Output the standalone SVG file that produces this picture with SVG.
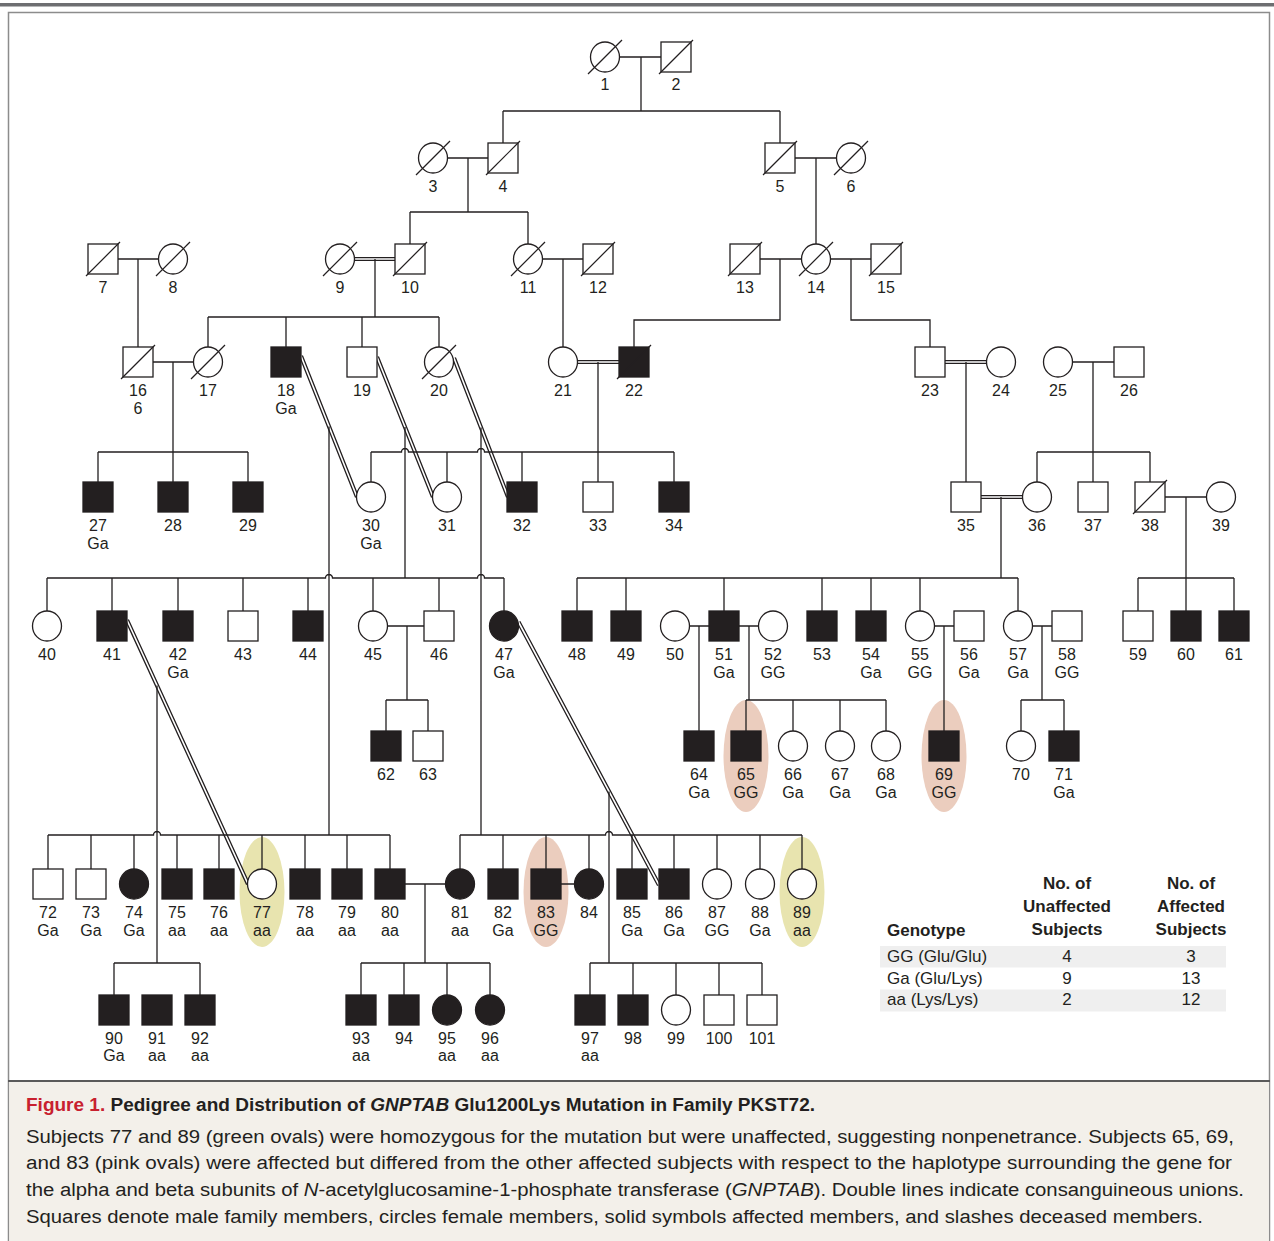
<svg xmlns="http://www.w3.org/2000/svg" width="1274" height="1241" viewBox="0 0 1274 1241">
<style>
.s{fill:#fff;stroke:#231f20;stroke-width:1.3}
.a{fill:#231f20;stroke:#231f20;stroke-width:1.3}
.x{stroke:#231f20;stroke-width:1.2}
.t{font-family:"Liberation Sans",Arial,sans-serif;font-size:16px;fill:#231f20;text-anchor:middle}
.c{fill:none;stroke:#231f20;stroke-width:1.3}
.dk{fill:none;stroke:#231f20;stroke-width:4.2}
.wt{fill:none;stroke:#fff;stroke-width:1.6}
.pk{fill:#ebcdbe}
.gr{fill:#e8e4af}
.th{font-family:"Liberation Sans",Arial,sans-serif;font-size:17px;font-weight:bold;fill:#231f20}
.tr{font-family:"Liberation Sans",Arial,sans-serif;font-size:17px;fill:#231f20}
.cap{font-family:"Liberation Sans",Arial,sans-serif;font-size:18px;fill:#231f20}
</style>
<rect x="0" y="0" width="1274" height="1241" fill="#fff"/>
<rect x="0" y="3" width="1274" height="3.5" fill="#6d6e71"/>
<rect x="8.5" y="12.5" width="1261" height="1230" fill="none" stroke="#8c8c8c" stroke-width="1.5"/>
<g id="caption">
<rect x="9.3" y="1081" width="1259.5" height="160" fill="#f3f0ea"/>
<line x1="8" y1="1081" x2="1270" y2="1081" stroke="#5a5a5a" stroke-width="2"/>
<text class="cap" x="26" y="1111" font-weight="bold" textLength="789" lengthAdjust="spacingAndGlyphs"><tspan fill="#c8202f">Figure 1.</tspan> Pedigree and Distribution of <tspan font-style="italic">GNPTAB</tspan> Glu1200Lys Mutation in Family PKST72.</text>
<text class="cap" x="26" y="1143" textLength="1208" lengthAdjust="spacingAndGlyphs">Subjects 77 and 89 (green ovals) were homozygous for the mutation but were unaffected, suggesting nonpenetrance. Subjects 65, 69,</text>
<text class="cap" x="26" y="1169" textLength="1206" lengthAdjust="spacingAndGlyphs">and 83 (pink ovals) were affected but differed from the other affected subjects with respect to the haplotype surrounding the gene for</text>
<text class="cap" x="26" y="1196" textLength="1218" lengthAdjust="spacingAndGlyphs">the alpha and beta subunits of <tspan font-style="italic">N</tspan>-acetylglucosamine-1-phosphate transferase (<tspan font-style="italic">GNPTAB</tspan>). Double lines indicate consanguineous unions.</text>
<text class="cap" x="26" y="1223" textLength="1177" lengthAdjust="spacingAndGlyphs">Squares denote male family members, circles female members, solid symbols affected members, and slashes deceased members.</text>
</g>
<g id="ovals">
<ellipse class="pk" cx="746" cy="756" rx="22.5" ry="56"/>
<ellipse class="pk" cx="944" cy="756" rx="22.5" ry="56"/>
<ellipse class="gr" cx="262" cy="892" rx="22.5" ry="55"/>
<ellipse class="pk" cx="546" cy="892" rx="22.5" ry="55"/>
<ellipse class="gr" cx="802" cy="892" rx="22.5" ry="55"/>
</g>
<g id="connectors">
<path class="dk" d="M354.5 259H395.5M577.5 362H619M945 362H986.5M981 497H1022.5M301 356L357 497M377 357L433 497M454 358L508 497M127 620L248 884M518.5 622L659 885"/>
<path class="wt" d="M354.5 259H395.5M577.5 362H619M945 362H986.5M981 497H1022.5M301 356L357 497M377 357L433 497M454 358L508 497M127 620L248 884M518.5 622L659 885"/>
<path class="c" d="M619.5 57H661M641 57V111M503 111H780M503 111V143M780 111V143
M447.5 158H488M468 158V212M410 212H528M410 212V244M528 212V244.5
M795 158H836.5M816 158V244.5
M118 259H158.5M138 259V347
M375 259V317M208 317H439M208 317V347.5M286 317V347M362 317V347M439 317V347.5
M542.5 259H583M563 259V347.5
M760 259H801.5M780 259V320H634V347
M830.5 259H871M851 259V320H930V347
M153 362H193.5M173 362V482M98 452H248M98 452V482M248 452V482
M598 362V482M371 452H401.5A3.5 3.5 0 0 1 408.5 452H477.5A3.5 3.5 0 0 1 484.5 452H674M371 452V482.5M447 452V482.5M522 452V482M674 452V482
M966 362V482
M1072.5 362H1114M1093 362V482M1037 452H1150M1037 452V482.5M1150 452V482
M1001 497V578M577 578H1018M577 578V611M626 578V611M724 578V611M822 578V611M871 578V611M920 578V611.5M1018 578V611.5
M1165 497H1206.5M1186 497V611M1138 578H1234M1138 578V611M1234 578V611
M329 426.5V835M405 427V578M481 427.5V835
M47 578H325.5A3.5 3.5 0 0 1 332.5 578H477.5A3.5 3.5 0 0 1 484.5 578H504M47 578V611.5M112 578V611M178 578V611M243 578V611M308 578V611M373 578V611.5M439 578V611M504 578V611.5
M387.5 626H424M407 626V700M386 700H428M386 700V731M428 700V731
M689.5 626H709M699 626V731
M739 626H758.5M749 626V700M746 700H886M746 700V731M793 700V731.5M840 700V731.5M886 700V731.5
M934.5 626H954M944 626V731
M1032.5 626H1052M1042 626V700M1021 700H1064M1021 700V731.5M1064 700V731
M48 835H153.5A3.5 3.5 0 0 1 160.5 835H390M48 835V869M91 835V869M134 835V869.5M177 835V869M219 835V869M262 835V869.5M305 835V869M347 835V869M390 835V869
M157 685.5V963
M405 884H445.5M425 884V963M361 963H490M361 963V995M404 963V995M447 963V995.5M490 963V995.5
M460 835H605.5A3.5 3.5 0 0 1 612.5 835H802M460 835V869.5M503 835V869M546 835V869M589 835V869.5M632 835V869M674 835V869M717 835V869.5M760 835V869.5M802 835V869.5
M561 884H574.5
M609 791.5V963
M114 963H200M114 963V995M200 963V995
M590 963H762M590 963V995M633 963V995M676 963V995.5M719 963V995M762 963V995"/>
</g>
<g id="nodes">
<g id="n1"><ellipse class="s" cx="605" cy="57" rx="14.5" ry="15"/><line class="x" x1="588" y1="74" x2="622" y2="40"/><text class="t" x="605" y="90">1</text></g>
<g id="n2"><rect class="s" x="661" y="42" width="30" height="30"/><line class="x" x1="659" y1="74" x2="693" y2="40"/><text class="t" x="676" y="90">2</text></g>
<g id="n3"><ellipse class="s" cx="433" cy="158" rx="14.5" ry="15"/><line class="x" x1="416" y1="175" x2="450" y2="141"/><text class="t" x="433" y="192">3</text></g>
<g id="n4"><rect class="s" x="488" y="143" width="30" height="30"/><line class="x" x1="486" y1="175" x2="520" y2="141"/><text class="t" x="503" y="192">4</text></g>
<g id="n5"><rect class="s" x="765" y="143" width="30" height="30"/><line class="x" x1="763" y1="175" x2="797" y2="141"/><text class="t" x="780" y="192">5</text></g>
<g id="n6"><ellipse class="s" cx="851" cy="158" rx="14.5" ry="15"/><line class="x" x1="834" y1="175" x2="868" y2="141"/><text class="t" x="851" y="192">6</text></g>
<g id="n7"><rect class="s" x="88" y="244" width="30" height="30"/><line class="x" x1="86" y1="276" x2="120" y2="242"/><text class="t" x="103" y="293">7</text></g>
<g id="n8"><ellipse class="s" cx="173" cy="259" rx="14.5" ry="15"/><line class="x" x1="156" y1="276" x2="190" y2="242"/><text class="t" x="173" y="293">8</text></g>
<g id="n9"><ellipse class="s" cx="340" cy="259" rx="14.5" ry="15"/><line class="x" x1="323" y1="276" x2="357" y2="242"/><text class="t" x="340" y="293">9</text></g>
<g id="n10"><rect class="s" x="395" y="244" width="30" height="30"/><line class="x" x1="393" y1="276" x2="427" y2="242"/><text class="t" x="410" y="293">10</text></g>
<g id="n11"><ellipse class="s" cx="528" cy="259" rx="14.5" ry="15"/><line class="x" x1="511" y1="276" x2="545" y2="242"/><text class="t" x="528" y="293">11</text></g>
<g id="n12"><rect class="s" x="583" y="244" width="30" height="30"/><line class="x" x1="581" y1="276" x2="615" y2="242"/><text class="t" x="598" y="293">12</text></g>
<g id="n13"><rect class="s" x="730" y="244" width="30" height="30"/><line class="x" x1="728" y1="276" x2="762" y2="242"/><text class="t" x="745" y="293">13</text></g>
<g id="n14"><ellipse class="s" cx="816" cy="259" rx="14.5" ry="15"/><line class="x" x1="799" y1="276" x2="833" y2="242"/><text class="t" x="816" y="293">14</text></g>
<g id="n15"><rect class="s" x="871" y="244" width="30" height="30"/><line class="x" x1="869" y1="276" x2="903" y2="242"/><text class="t" x="886" y="293">15</text></g>
<g id="n16"><rect class="s" x="123" y="347" width="30" height="30"/><line class="x" x1="121" y1="379" x2="155" y2="345"/><text class="t" x="138" y="396">16</text><text class="t" x="138" y="414">6</text></g>
<g id="n17"><ellipse class="s" cx="208" cy="362" rx="14.5" ry="15"/><line class="x" x1="191" y1="379" x2="225" y2="345"/><text class="t" x="208" y="396">17</text></g>
<g id="n18"><rect class="a" x="271" y="347" width="30" height="30"/><text class="t" x="286" y="396">18</text><text class="t" x="286" y="414">Ga</text></g>
<g id="n19"><rect class="s" x="347" y="347" width="30" height="30"/><text class="t" x="362" y="396">19</text></g>
<g id="n20"><ellipse class="s" cx="439" cy="362" rx="14.5" ry="15"/><line class="x" x1="422" y1="379" x2="456" y2="345"/><text class="t" x="439" y="396">20</text></g>
<g id="n21"><ellipse class="s" cx="563" cy="362" rx="14.5" ry="15"/><text class="t" x="563" y="396">21</text></g>
<g id="n22"><rect class="a" x="619" y="347" width="30" height="30"/><line class="x" x1="617" y1="379" x2="651" y2="345"/><text class="t" x="634" y="396">22</text></g>
<g id="n23"><rect class="s" x="915" y="347" width="30" height="30"/><text class="t" x="930" y="396">23</text></g>
<g id="n24"><ellipse class="s" cx="1001" cy="362" rx="14.5" ry="15"/><text class="t" x="1001" y="396">24</text></g>
<g id="n25"><ellipse class="s" cx="1058" cy="362" rx="14.5" ry="15"/><text class="t" x="1058" y="396">25</text></g>
<g id="n26"><rect class="s" x="1114" y="347" width="30" height="30"/><text class="t" x="1129" y="396">26</text></g>
<g id="n27"><rect class="a" x="83" y="482" width="30" height="30"/><text class="t" x="98" y="531">27</text><text class="t" x="98" y="549">Ga</text></g>
<g id="n28"><rect class="a" x="158" y="482" width="30" height="30"/><text class="t" x="173" y="531">28</text></g>
<g id="n29"><rect class="a" x="233" y="482" width="30" height="30"/><text class="t" x="248" y="531">29</text></g>
<g id="n30"><ellipse class="s" cx="371" cy="497" rx="14.5" ry="15"/><text class="t" x="371" y="531">30</text><text class="t" x="371" y="549">Ga</text></g>
<g id="n31"><ellipse class="s" cx="447" cy="497" rx="14.5" ry="15"/><text class="t" x="447" y="531">31</text></g>
<g id="n32"><rect class="a" x="507" y="482" width="30" height="30"/><text class="t" x="522" y="531">32</text></g>
<g id="n33"><rect class="s" x="583" y="482" width="30" height="30"/><text class="t" x="598" y="531">33</text></g>
<g id="n34"><rect class="a" x="659" y="482" width="30" height="30"/><text class="t" x="674" y="531">34</text></g>
<g id="n35"><rect class="s" x="951" y="482" width="30" height="30"/><text class="t" x="966" y="531">35</text></g>
<g id="n36"><ellipse class="s" cx="1037" cy="497" rx="14.5" ry="15"/><text class="t" x="1037" y="531">36</text></g>
<g id="n37"><rect class="s" x="1078" y="482" width="30" height="30"/><text class="t" x="1093" y="531">37</text></g>
<g id="n38"><rect class="s" x="1135" y="482" width="30" height="30"/><line class="x" x1="1133" y1="514" x2="1167" y2="480"/><text class="t" x="1150" y="531">38</text></g>
<g id="n39"><ellipse class="s" cx="1221" cy="497" rx="14.5" ry="15"/><text class="t" x="1221" y="531">39</text></g>
<g id="n40"><ellipse class="s" cx="47" cy="626" rx="14.5" ry="15"/><text class="t" x="47" y="660">40</text></g>
<g id="n41"><rect class="a" x="97" y="611" width="30" height="30"/><text class="t" x="112" y="660">41</text></g>
<g id="n42"><rect class="a" x="163" y="611" width="30" height="30"/><text class="t" x="178" y="660">42</text><text class="t" x="178" y="678">Ga</text></g>
<g id="n43"><rect class="s" x="228" y="611" width="30" height="30"/><text class="t" x="243" y="660">43</text></g>
<g id="n44"><rect class="a" x="293" y="611" width="30" height="30"/><text class="t" x="308" y="660">44</text></g>
<g id="n45"><ellipse class="s" cx="373" cy="626" rx="14.5" ry="15"/><text class="t" x="373" y="660">45</text></g>
<g id="n46"><rect class="s" x="424" y="611" width="30" height="30"/><text class="t" x="439" y="660">46</text></g>
<g id="n47"><ellipse class="a" cx="504" cy="626" rx="14.5" ry="15"/><text class="t" x="504" y="660">47</text><text class="t" x="504" y="678">Ga</text></g>
<g id="n48"><rect class="a" x="562" y="611" width="30" height="30"/><text class="t" x="577" y="660">48</text></g>
<g id="n49"><rect class="a" x="611" y="611" width="30" height="30"/><text class="t" x="626" y="660">49</text></g>
<g id="n50"><ellipse class="s" cx="675" cy="626" rx="14.5" ry="15"/><text class="t" x="675" y="660">50</text></g>
<g id="n51"><rect class="a" x="709" y="611" width="30" height="30"/><text class="t" x="724" y="660">51</text><text class="t" x="724" y="678">Ga</text></g>
<g id="n52"><ellipse class="s" cx="773" cy="626" rx="14.5" ry="15"/><text class="t" x="773" y="660">52</text><text class="t" x="773" y="678">GG</text></g>
<g id="n53"><rect class="a" x="807" y="611" width="30" height="30"/><text class="t" x="822" y="660">53</text></g>
<g id="n54"><rect class="a" x="856" y="611" width="30" height="30"/><text class="t" x="871" y="660">54</text><text class="t" x="871" y="678">Ga</text></g>
<g id="n55"><ellipse class="s" cx="920" cy="626" rx="14.5" ry="15"/><text class="t" x="920" y="660">55</text><text class="t" x="920" y="678">GG</text></g>
<g id="n56"><rect class="s" x="954" y="611" width="30" height="30"/><text class="t" x="969" y="660">56</text><text class="t" x="969" y="678">Ga</text></g>
<g id="n57"><ellipse class="s" cx="1018" cy="626" rx="14.5" ry="15"/><text class="t" x="1018" y="660">57</text><text class="t" x="1018" y="678">Ga</text></g>
<g id="n58"><rect class="s" x="1052" y="611" width="30" height="30"/><text class="t" x="1067" y="660">58</text><text class="t" x="1067" y="678">GG</text></g>
<g id="n59"><rect class="s" x="1123" y="611" width="30" height="30"/><text class="t" x="1138" y="660">59</text></g>
<g id="n60"><rect class="a" x="1171" y="611" width="30" height="30"/><text class="t" x="1186" y="660">60</text></g>
<g id="n61"><rect class="a" x="1219" y="611" width="30" height="30"/><text class="t" x="1234" y="660">61</text></g>
<g id="n62"><rect class="a" x="371" y="731" width="30" height="30"/><text class="t" x="386" y="780">62</text></g>
<g id="n63"><rect class="s" x="413" y="731" width="30" height="30"/><text class="t" x="428" y="780">63</text></g>
<g id="n64"><rect class="a" x="684" y="731" width="30" height="30"/><text class="t" x="699" y="780">64</text><text class="t" x="699" y="798">Ga</text></g>
<g id="n65"><rect class="a" x="731" y="731" width="30" height="30"/><text class="t" x="746" y="780">65</text><text class="t" x="746" y="798">GG</text></g>
<g id="n66"><ellipse class="s" cx="793" cy="746" rx="14.5" ry="15"/><text class="t" x="793" y="780">66</text><text class="t" x="793" y="798">Ga</text></g>
<g id="n67"><ellipse class="s" cx="840" cy="746" rx="14.5" ry="15"/><text class="t" x="840" y="780">67</text><text class="t" x="840" y="798">Ga</text></g>
<g id="n68"><ellipse class="s" cx="886" cy="746" rx="14.5" ry="15"/><text class="t" x="886" y="780">68</text><text class="t" x="886" y="798">Ga</text></g>
<g id="n69"><rect class="a" x="929" y="731" width="30" height="30"/><text class="t" x="944" y="780">69</text><text class="t" x="944" y="798">GG</text></g>
<g id="n70"><ellipse class="s" cx="1021" cy="746" rx="14.5" ry="15"/><text class="t" x="1021" y="780">70</text></g>
<g id="n71"><rect class="a" x="1049" y="731" width="30" height="30"/><text class="t" x="1064" y="780">71</text><text class="t" x="1064" y="798">Ga</text></g>
<g id="n72"><rect class="s" x="33" y="869" width="30" height="30"/><text class="t" x="48" y="918">72</text><text class="t" x="48" y="936">Ga</text></g>
<g id="n73"><rect class="s" x="76" y="869" width="30" height="30"/><text class="t" x="91" y="918">73</text><text class="t" x="91" y="936">Ga</text></g>
<g id="n74"><ellipse class="a" cx="134" cy="884" rx="14.5" ry="15"/><text class="t" x="134" y="918">74</text><text class="t" x="134" y="936">Ga</text></g>
<g id="n75"><rect class="a" x="162" y="869" width="30" height="30"/><text class="t" x="177" y="918">75</text><text class="t" x="177" y="936">aa</text></g>
<g id="n76"><rect class="a" x="204" y="869" width="30" height="30"/><text class="t" x="219" y="918">76</text><text class="t" x="219" y="936">aa</text></g>
<g id="n77"><ellipse class="s" cx="262" cy="884" rx="14.5" ry="15"/><text class="t" x="262" y="918">77</text><text class="t" x="262" y="936">aa</text></g>
<g id="n78"><rect class="a" x="290" y="869" width="30" height="30"/><text class="t" x="305" y="918">78</text><text class="t" x="305" y="936">aa</text></g>
<g id="n79"><rect class="a" x="332" y="869" width="30" height="30"/><text class="t" x="347" y="918">79</text><text class="t" x="347" y="936">aa</text></g>
<g id="n80"><rect class="a" x="375" y="869" width="30" height="30"/><text class="t" x="390" y="918">80</text><text class="t" x="390" y="936">aa</text></g>
<g id="n81"><ellipse class="a" cx="460" cy="884" rx="14.5" ry="15"/><text class="t" x="460" y="918">81</text><text class="t" x="460" y="936">aa</text></g>
<g id="n82"><rect class="a" x="488" y="869" width="30" height="30"/><text class="t" x="503" y="918">82</text><text class="t" x="503" y="936">Ga</text></g>
<g id="n83"><rect class="a" x="531" y="869" width="30" height="30"/><text class="t" x="546" y="918">83</text><text class="t" x="546" y="936">GG</text></g>
<g id="n84"><ellipse class="a" cx="589" cy="884" rx="14.5" ry="15"/><text class="t" x="589" y="918">84</text></g>
<g id="n85"><rect class="a" x="617" y="869" width="30" height="30"/><text class="t" x="632" y="918">85</text><text class="t" x="632" y="936">Ga</text></g>
<g id="n86"><rect class="a" x="659" y="869" width="30" height="30"/><text class="t" x="674" y="918">86</text><text class="t" x="674" y="936">Ga</text></g>
<g id="n87"><ellipse class="s" cx="717" cy="884" rx="14.5" ry="15"/><text class="t" x="717" y="918">87</text><text class="t" x="717" y="936">GG</text></g>
<g id="n88"><ellipse class="s" cx="760" cy="884" rx="14.5" ry="15"/><text class="t" x="760" y="918">88</text><text class="t" x="760" y="936">Ga</text></g>
<g id="n89"><ellipse class="s" cx="802" cy="884" rx="14.5" ry="15"/><text class="t" x="802" y="918">89</text><text class="t" x="802" y="936">aa</text></g>
<g id="n90"><rect class="a" x="99" y="995" width="30" height="30"/><text class="t" x="114" y="1044">90</text><text class="t" x="114" y="1061">Ga</text></g>
<g id="n91"><rect class="a" x="142" y="995" width="30" height="30"/><text class="t" x="157" y="1044">91</text><text class="t" x="157" y="1061">aa</text></g>
<g id="n92"><rect class="a" x="185" y="995" width="30" height="30"/><text class="t" x="200" y="1044">92</text><text class="t" x="200" y="1061">aa</text></g>
<g id="n93"><rect class="a" x="346" y="995" width="30" height="30"/><text class="t" x="361" y="1044">93</text><text class="t" x="361" y="1061">aa</text></g>
<g id="n94"><rect class="a" x="389" y="995" width="30" height="30"/><text class="t" x="404" y="1044">94</text></g>
<g id="n95"><ellipse class="a" cx="447" cy="1010" rx="14.5" ry="15"/><text class="t" x="447" y="1044">95</text><text class="t" x="447" y="1061">aa</text></g>
<g id="n96"><ellipse class="a" cx="490" cy="1010" rx="14.5" ry="15"/><text class="t" x="490" y="1044">96</text><text class="t" x="490" y="1061">aa</text></g>
<g id="n97"><rect class="a" x="575" y="995" width="30" height="30"/><text class="t" x="590" y="1044">97</text><text class="t" x="590" y="1061">aa</text></g>
<g id="n98"><rect class="a" x="618" y="995" width="30" height="30"/><text class="t" x="633" y="1044">98</text></g>
<g id="n99"><ellipse class="s" cx="676" cy="1010" rx="14.5" ry="15"/><text class="t" x="676" y="1044">99</text></g>
<g id="n100"><rect class="s" x="704" y="995" width="30" height="30"/><text class="t" x="719" y="1044">100</text></g>
<g id="n101"><rect class="s" x="747" y="995" width="30" height="30"/><text class="t" x="762" y="1044">101</text></g>
</g>
<g id="table">
<rect x="880" y="946" width="346" height="21.5" fill="#efefef"/>
<rect x="880" y="989.5" width="346" height="22" fill="#efefef"/>
<text class="th" x="887" y="936">Genotype</text>
<text class="th" x="1067" y="889" text-anchor="middle">No. of</text>
<text class="th" x="1067" y="912" text-anchor="middle">Unaffected</text>
<text class="th" x="1067" y="935" text-anchor="middle">Subjects</text>
<text class="th" x="1191" y="889" text-anchor="middle">No. of</text>
<text class="th" x="1191" y="912" text-anchor="middle">Affected</text>
<text class="th" x="1191" y="935" text-anchor="middle">Subjects</text>
<text class="tr" x="887" y="962">GG (Glu/Glu)</text>
<text class="tr" x="1067" y="962" text-anchor="middle">4</text>
<text class="tr" x="1191" y="962" text-anchor="middle">3</text>
<text class="tr" x="887" y="984">Ga (Glu/Lys)</text>
<text class="tr" x="1067" y="984" text-anchor="middle">9</text>
<text class="tr" x="1191" y="984" text-anchor="middle">13</text>
<text class="tr" x="887" y="1005">aa (Lys/Lys)</text>
<text class="tr" x="1067" y="1005" text-anchor="middle">2</text>
<text class="tr" x="1191" y="1005" text-anchor="middle">12</text>
</g>
</svg>
